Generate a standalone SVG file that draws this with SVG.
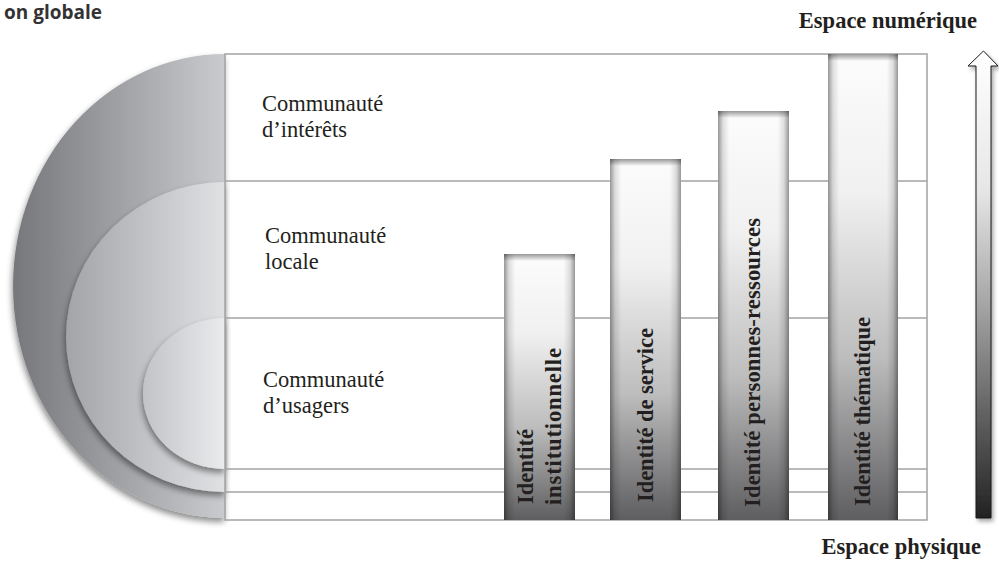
<svg xmlns="http://www.w3.org/2000/svg" width="999" height="561" viewBox="0 0 999 561">
<style>
.lbl{font-family:"Liberation Serif","Times New Roman",serif;font-size:22.5px;fill:#231f20}
.blbl{font-family:"Liberation Serif","Times New Roman",serif;font-size:22.5px;font-weight:bold;fill:#231f20}
.grid{stroke:#a3a3a3;stroke-width:1.5;fill:none}
.title{font-family:"Open Sans","Liberation Sans",sans-serif;font-size:19px;font-weight:bold;fill:#333}
</style>
<defs>
<linearGradient id="gBig" x1="0" y1="0" x2="1" y2="0">
<stop offset="0" stop-color="#76777b"/><stop offset="1" stop-color="#cacbce"/>
</linearGradient>
<linearGradient id="gMid" x1="0" y1="0" x2="1" y2="0">
<stop offset="0" stop-color="#a3a4a8"/><stop offset="1" stop-color="#e0e1e3"/>
</linearGradient>
<linearGradient id="gSmall" x1="0" y1="0" x2="1" y2="0">
<stop offset="0" stop-color="#c2c3c6"/><stop offset="1" stop-color="#eaebed"/>
</linearGradient>
<linearGradient id="gBar" x1="0" y1="0" x2="0" y2="1">
<stop offset="0" stop-color="#fcfcfc"/><stop offset="0.3" stop-color="#f0f0f0"/><stop offset="0.65" stop-color="#bdbdbe"/><stop offset="1" stop-color="#5e5e60"/>
</linearGradient>
<linearGradient id="gEdge" x1="0" y1="0" x2="1" y2="0">
<stop offset="0" stop-color="#000" stop-opacity="0.4"/><stop offset="0.07" stop-color="#000" stop-opacity="0.12"/><stop offset="0.16" stop-color="#000" stop-opacity="0"/><stop offset="0.84" stop-color="#000" stop-opacity="0"/><stop offset="0.93" stop-color="#000" stop-opacity="0.12"/><stop offset="1" stop-color="#000" stop-opacity="0.4"/>
</linearGradient>
<linearGradient id="gTop" x1="0" y1="0" x2="0" y2="1">
<stop offset="0" stop-color="#000" stop-opacity="0.4"/><stop offset="1" stop-color="#000" stop-opacity="0"/>
</linearGradient>
<linearGradient id="gArrow" x1="0" y1="0" x2="0" y2="1">
<stop offset="0" stop-color="#ffffff"/><stop offset="0.3" stop-color="#e6e6e6"/><stop offset="0.55" stop-color="#a3a3a3"/><stop offset="1" stop-color="#222"/>
</linearGradient>
<filter id="sh" x="-20%" y="-20%" width="140%" height="140%">
<feDropShadow dx="-1" dy="4" stdDeviation="3" flood-color="#000" flood-opacity="0.45"/>
</filter>
<filter id="shA" x="-50%" y="-10%" width="200%" height="120%">
<feDropShadow dx="2" dy="3" stdDeviation="2" flood-color="#000" flood-opacity="0.35"/>
</filter>
</defs>
<rect width="999" height="561" fill="#fff"/>
<text class="title" x="4" y="19">on globale</text>

<g id="half-circles">
<path id="global" d="M225,54 A212,232 0 0 0 225,518 Z" fill="url(#gBig)" filter="url(#sh)"/>
<path id="local" d="M225,182 A159,155 0 0 0 225,492 Z" fill="url(#gMid)" filter="url(#sh)"/>
<path id="usagers" d="M225,318 A82,75.5 0 0 0 225,469 Z" fill="url(#gSmall)" filter="url(#sh)"/>
</g>

<g id="frame">
<rect x="225" y="54" width="702" height="466" fill="#fff" class="grid"/>
<line class="grid" x1="225" y1="181" x2="927" y2="181"/>
<line class="grid" x1="225" y1="318" x2="927" y2="318"/>
<line class="grid" x1="225" y1="469" x2="927" y2="469"/>
<line class="grid" x1="225" y1="492" x2="927" y2="492"/>
</g>

<g id="communaute-interets">
<text class="lbl" x="262" y="111">Communauté</text>
<text class="lbl" x="262" y="137">d’intérêts</text>
</g>
<g id="communaute-locale">
<text class="lbl" x="265" y="243">Communauté</text>
<text class="lbl" x="265" y="269">locale</text>
</g>
<g id="communaute-usagers">
<text class="lbl" x="263" y="387">Communauté</text>
<text class="lbl" x="263" y="413">d’usagers</text>
</g>

<g id="bar-institutionnelle">
<rect x="504" y="254" width="71" height="266" fill="url(#gBar)"/>
<rect x="504" y="254" width="71" height="266" fill="url(#gEdge)"/>
<rect x="504" y="254" width="71" height="7" fill="url(#gTop)"/>
<text class="blbl" transform="translate(533,504) rotate(-90)">Identité</text>
<text class="blbl" transform="translate(561,505) rotate(-90)" textLength="157">institutionnelle</text>
</g>
<g id="bar-service">
<rect x="610" y="159" width="71" height="361" fill="url(#gBar)"/>
<rect x="610" y="159" width="71" height="361" fill="url(#gEdge)"/>
<rect x="610" y="159" width="71" height="7" fill="url(#gTop)"/>
<text class="blbl" transform="translate(653,502) rotate(-90)" textLength="174">Identité de service</text>
</g>
<g id="bar-personnes">
<rect x="718" y="111" width="71" height="409" fill="url(#gBar)"/>
<rect x="718" y="111" width="71" height="409" fill="url(#gEdge)"/>
<rect x="718" y="111" width="71" height="7" fill="url(#gTop)"/>
<text class="blbl" transform="translate(760,507) rotate(-90)" textLength="289">Identité personnes-ressources</text>
</g>
<g id="bar-thematique">
<rect x="828" y="54" width="70" height="466" fill="url(#gBar)"/>
<rect x="828" y="54" width="70" height="466" fill="url(#gEdge)"/>
<rect x="828" y="54" width="70" height="7" fill="url(#gTop)"/>
<text class="blbl" transform="translate(870,506) rotate(-90)" textLength="189">Identité thématique</text>
</g>

<g id="connectors">
<path d="M976,518 L976,66 L968,66 L983.5,51 L998,66 L991,66 L991,518 Z" fill="url(#gArrow)" stroke="#1a1a1a" stroke-width="1" filter="url(#shA)"/>
</g>
<g id="axis-labels">
<text class="blbl" x="977" y="28" text-anchor="end">Espace numérique</text>
<text class="blbl" x="981" y="554" text-anchor="end">Espace physique</text>
</g>
</svg>
